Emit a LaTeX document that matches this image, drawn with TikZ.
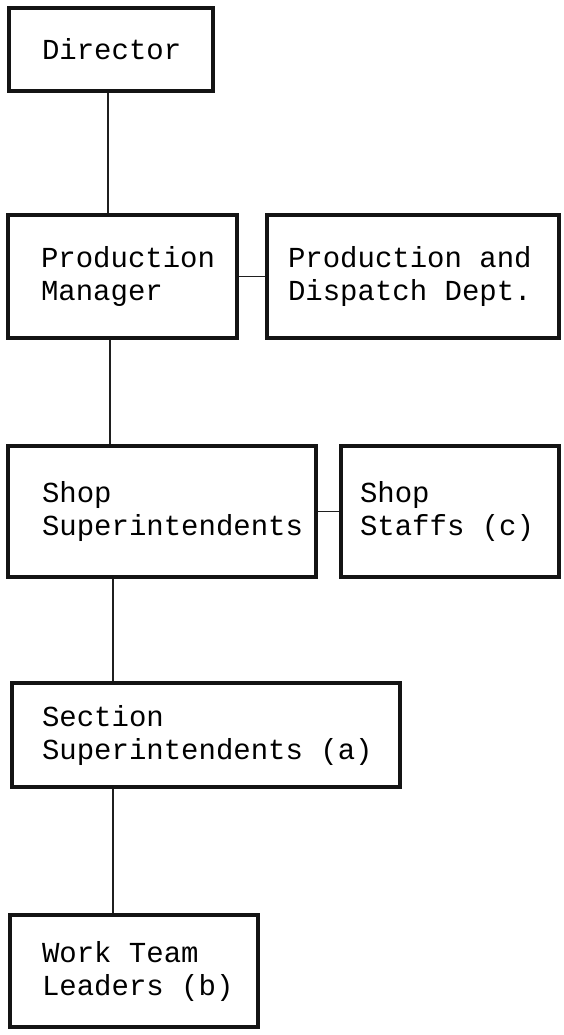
\documentclass[tikz,border=0pt]{standalone}
\usepackage{fontspec}
\setmonofont{Liberation Mono}
% typewriter face; \cellsp is one full character cell of blank
\newcommand{\orgfont}{\ttfamily\fontsize{29}{33}\selectfont}
\newcommand{\cellsp}{\hspace*{17.4pt}}
\begin{document}
\begin{tikzpicture}[x=1pt,y=1pt,
  orgbox/.style={draw=black!92, line width=3.2pt, align=left, font=\orgfont,
    inner ysep=0pt, anchor=center},
  link/.style={draw=black!88, line width=1.8pt}]
\useasboundingbox (0,0) rectangle (564,-1035);
\fill[white] (0,0) rectangle (564,-1035);

% boxes: width = text width + 2*inner xsep
\node[orgbox, inner xsep=33pt, text width=138pt, minimum height=83pt]  (dir)   at (111,-49.5)  {Director};
\node[orgbox, inner xsep=33pt, text width=163pt, minimum height=123pt] (pm)    at (122.5,-276.5) {Production\\Manager};
\node[orgbox, inner xsep=21pt, text width=250pt, minimum height=123pt] (pdd)   at (413,-276.5) {Production\cellsp and\\Dispatch\cellsp Dept.};
\node[orgbox, inner xsep=34pt, text width=240pt, minimum height=131pt] (shop)  at (162,-511.5) {Shop\\Superintendents};
\node[orgbox, inner xsep=19pt, text width=180pt, minimum height=131pt] (staff) at (450,-511.5) {Shop\\Staffs\cellsp(c)};
\node[orgbox, inner xsep=30pt, text width=328pt, minimum height=104pt] (sect)  at (206,-735)   {Section\\Superintendents\cellsp(a)};
\node[orgbox, inner xsep=32pt, text width=184pt, minimum height=112pt] (work)  at (134,-971)   {Work\cellsp Team\\Leaders\cellsp(b)};

% reporting lines
\draw[link] (dir.south -| 108,0) -- (pm.north -| 108,0);
\draw[link] (pm.south -| 110,0) -- (shop.north -| 110,0);
\draw[link] (shop.south -| 113,0) -- (sect.north -| 113,0);
\draw[link] (sect.south -| 113,0) -- (work.north -| 113,0);
\draw[link] (pm.east) -- (pdd.west);
\draw[link] (shop.east) -- (staff.west);
\end{tikzpicture}
\end{document}
